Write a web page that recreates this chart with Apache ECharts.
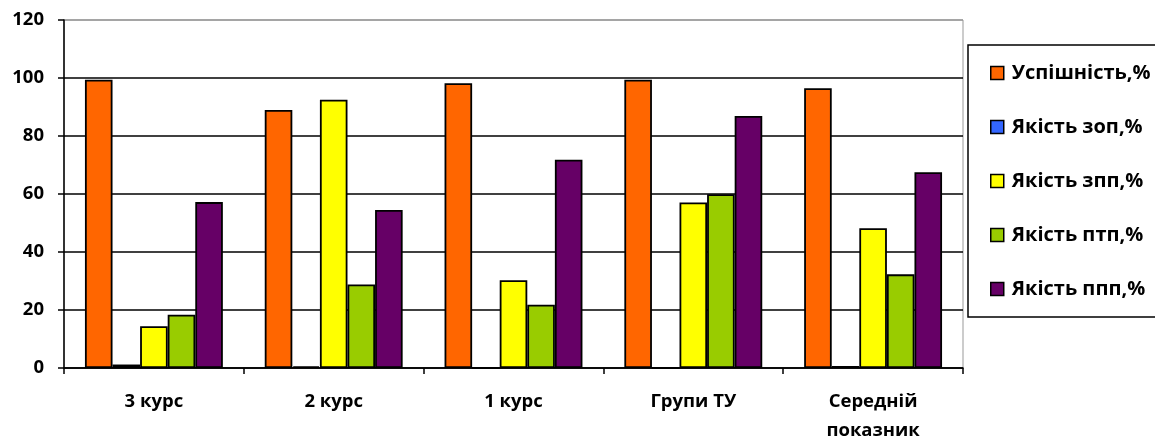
<!DOCTYPE html>
<html><head><meta charset="utf-8">
<script src="https://cdn.jsdelivr.net/npm/echarts@6/dist/echarts.min.js"></script>
<style>html,body{margin:0;padding:0;background:#fff;overflow:hidden}#c{width:1155px;height:439px}</style>
</head><body><div id="c"></div>
<script>
const categories = ['3 курс', '2 курс', '1 курс', 'Групи ТУ', 'Середній\nпоказник'];
const seriesNames = ['Успішність,%', 'Якість зоп,%', 'Якість зпп,%', 'Якість птп,%', 'Якість ппп,%'];
const uspishnist = [99.4, 89.0, 98.2, 99.4, 96.5];
const yakistZop = [1.2, 0.6, 0, 0, 0.7];
const yakistZpp = [14.4, 92.5, 30.3, 57.1, 48.2];
const yakistPtp = [18.4, 28.8, 21.8, 59.9, 32.3];
const yakistPpp = [57.2, 54.5, 71.8, 86.9, 67.5];
const colors = ['#FF6600', '#3366FF', '#FFFF00', '#99CC00', '#660066'];
const allData = [uspishnist, yakistZop, yakistZpp, yakistPtp, yakistPpp];

const chart = echarts.init(document.getElementById('c'));
const font = '"Open Sans", "DejaVu Sans", sans-serif';
chart.setOption({
  animation: false,
  grid: { left: 64, right: 192, top: 20, bottom: 71, outerBoundsMode: 'none', containLabel: false,
          show: true, borderColor: '#999', borderWidth: 1 },
  legend: {
    orient: 'vertical', left: 990, top: 63, padding: 0, itemGap: 34,
    itemWidth: 13, itemHeight: 13, icon: 'rect',
    itemStyle: { borderColor: '#000', borderWidth: 1.5 },
    textStyle: { fontFamily: font, fontWeight: 'bold', fontSize: 20, color: '#000', padding: [0, 0, 0, 3] },
    data: seriesNames
  },
  graphic: [{ type: 'rect', shape: { x: 968, y: 45, width: 200, height: 272 }, style: { fill: 'none', stroke: '#000', lineWidth: 1.5 }, z: 100 }],
  xAxis: {
    type: 'category', data: categories,
    axisLine: { lineStyle: { color: '#000', width: 1.5 } },
    axisTick: { show: true, length: 6, lineStyle: { color: '#000', width: 1.5 } },
    axisLabel: { margin: 19, fontFamily: font, fontWeight: 'bold', fontSize: 18.5, color: '#000', lineHeight: 29 }
  },
  yAxis: {
    type: 'value', min: 0, max: 120, interval: 20,
    axisLine: { show: true, lineStyle: { color: '#000', width: 1.5 } },
    axisTick: { show: true, length: 6, lineStyle: { color: '#000', width: 1.5 } },
    axisLabel: { margin: 20, fontFamily: font, fontWeight: 'bold', fontSize: 18.5, color: '#000' },
    splitLine: { lineStyle: { color: ['#000', '#000', '#000', '#000', '#000', '#000', '#999'], width: 1.5 } }
  },
  series: seriesNames.map((n, i) => ({
    name: n, type: 'bar', data: allData[i],
    barGap: '0%', barCategoryGap: '23.3%',
    itemStyle: { color: colors[i], borderColor: '#000', borderWidth: 1.8 }
  }))
});
</script></body></html>
